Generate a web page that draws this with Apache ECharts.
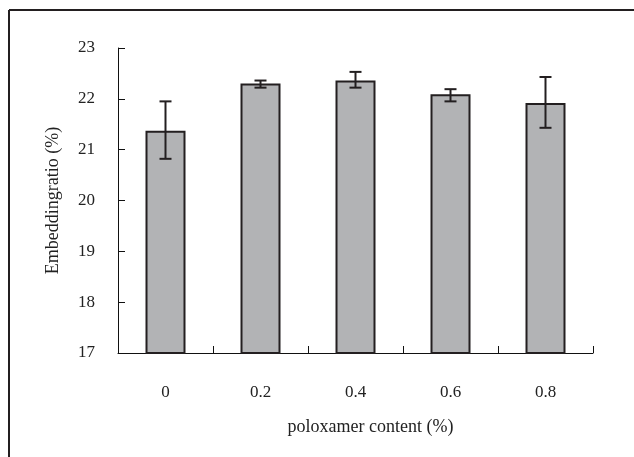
<!DOCTYPE html>
<html>
<head>
<meta charset="utf-8">
<script src="https://cdn.jsdelivr.net/npm/echarts@6/dist/echarts.min.js"></script>
<style>
  html, body { margin: 0; padding: 0; background: #fff; }
  #main { width: 634px; height: 457px; }
</style>
</head>
<body>
<div id="main"></div>
<script>
var chart = echarts.init(document.getElementById('main'));

// poloxamer content (%)
var categories = ['0', '0.2', '0.4', '0.6', '0.8'];
// embedding ratio (%) — bar heights
var ratio = [21.37, 22.30, 22.36, 22.09, 21.92];
// error bar ends
var errLow = [20.82, 22.22, 22.22, 21.95, 21.43];
var errHigh = [21.95, 22.36, 22.53, 22.19, 22.43];

var font = '"Liberation Serif", "Times New Roman", serif';
var ink = '#231f20';

var errData = categories.map(function (c, i) {
  return [i, errLow[i], errHigh[i]];
});

var option = {
  backgroundColor: '#fff',
  animation: false,
  grid: { left: 118, right: 41, top: 48, bottom: 104 },
  xAxis: {
    type: 'category',
    data: categories,
    name: 'poloxamer content (%)',
    nameLocation: 'middle',
    nameGap: 65,
    nameTextStyle: { fontFamily: font, fontSize: 18, color: '#222', padding: [0, 0, 0, 30] },
    axisLine: { lineStyle: { color: '#111', width: 1 } },
    axisTick: { show: true, inside: true, length: 7, lineStyle: { color: '#111', width: 1 } },
    axisLabel: { fontFamily: font, fontSize: 17, color: '#222', margin: 31 },
    splitLine: { show: false }
  },
  yAxis: {
    type: 'value',
    min: 17,
    max: 23,
    interval: 1,
    name: 'Embeddingratio (%)',
    nameLocation: 'middle',
    nameGap: 56,
    nameTextStyle: { fontFamily: font, fontSize: 18, color: '#222' },
    axisLine: { show: true, lineStyle: { color: '#111', width: 1 } },
    axisTick: { show: true, inside: true, length: 7, lineStyle: { color: '#111' } },
    axisLabel: { fontFamily: font, fontSize: 17, color: '#222', margin: 23 },
    splitLine: { show: false }
  },
  graphic: [
    { type: 'line', shape: { x1: 9, y1: 10, x2: 634, y2: 10 }, style: { stroke: ink, lineWidth: 2 } },
    { type: 'line', shape: { x1: 9, y1: 10, x2: 9, y2: 457 }, style: { stroke: ink, lineWidth: 2 } }
  ],
  series: [
    {
      type: 'bar',
      data: ratio,
      barWidth: 40,
      itemStyle: { color: '#b2b3b5', borderColor: ink, borderWidth: 2 }
    },
    {
      type: 'custom',
      data: errData,
      z: 5,
      renderItem: function (params, api) {
        var x = api.value(0);
        var lo = api.coord([x, api.value(1)]);
        var hi = api.coord([x, api.value(2)]);
        var half = 6;
        var st = { stroke: ink, lineWidth: 2 };
        return {
          type: 'group',
          children: [
            { type: 'line', shape: { x1: lo[0], y1: lo[1], x2: hi[0], y2: hi[1] }, style: st },
            { type: 'line', shape: { x1: hi[0] - half, y1: hi[1], x2: hi[0] + half, y2: hi[1] }, style: st },
            { type: 'line', shape: { x1: lo[0] - half, y1: lo[1], x2: lo[0] + half, y2: lo[1] }, style: st }
          ]
        };
      }
    }
  ]
};

chart.setOption(option);
</script>
</body>
</html>
